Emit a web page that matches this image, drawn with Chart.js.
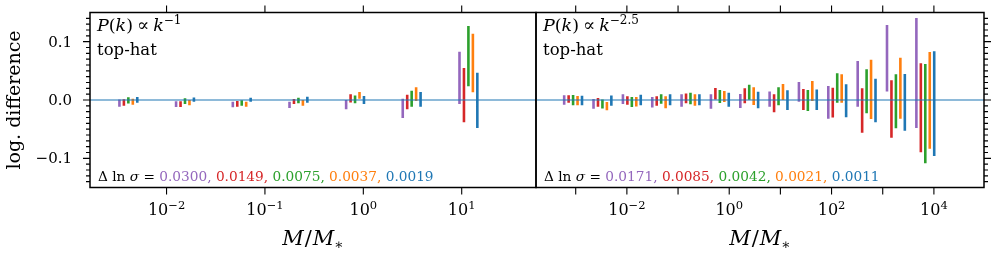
<!DOCTYPE html>
<html>
<head>
<meta charset="utf-8">
<script src="https://cdn.jsdelivr.net/npm/chart.js@4.4.1/dist/chart.umd.min.js"></script>
<style>
  body { margin: 0; background: #fff; }
  #wrap { position: relative; width: 996px; height: 256px; }
  canvas { position: absolute; left: 0; top: 0; }
</style>
</head>
<body>
<div id="wrap">
  <canvas id="left" width="996" height="256"></canvas>
  <canvas id="right" width="996" height="256"></canvas>
</div>
<script>
const SERIF = '"DejaVu Serif", serif';
const COLORS = ['#9467bd', '#d62728', '#2ca02c', '#ff7f0e', '#1f77b4'];
const ZERO_COLOR = '#1f77b4';

// left panel, P(k) ~ k^-1 : group masses (M/M*) and [low, high] per series
const leftMass = [0.00409, 0.0154, 0.0581, 0.219, 0.824, 3.10, 11.7];
const leftSigma = ['0.0300', '0.0149', '0.0075', '0.0037', '0.0019'];
const left0300 = [[-0.0114, 0.001], [-0.012, -0.0023], [-0.0126, -0.003], [-0.0137, -0.003], [-0.0157, 0.0], [-0.031, 0.0023], [-0.0069, 0.0826]];
const left0149 = [[-0.0097, 0.0015], [-0.012, -0.0023], [-0.0114, -0.0017], [-0.0069, 0.0017], [-0.0043, 0.010], [-0.016, 0.0091], [-0.038, 0.055]];
const left0075 = [[-0.006, 0.0048], [-0.007, 0.003], [-0.0097, -0.0006], [-0.0057, 0.004], [-0.0057, 0.0077], [-0.0114, 0.016], [0.0235, 0.1269]];
const left0037 = [[-0.008, 0.0023], [-0.0088, 0.0], [-0.0114, -0.003], [-0.0097, 0.0], [0.0023, 0.0137], [-0.0017, 0.0217], [0.0134, 0.1134]];
const left0019 = [[-0.0046, 0.005], [-0.0032, 0.0043], [-0.003, 0.004], [-0.0046, 0.0057], [-0.0069, 0.0069], [-0.0114, 0.0137], [-0.048, 0.0469]];
const leftXTicks = [-2, -1, 0, 1];
const leftXLabels = [-2, -1, 0, 1];

// right panel, P(k) ~ k^-2.5
const rightMass = [0.000889, 0.00333, 0.0125, 0.0468, 0.175, 0.656, 2.46, 9.20, 34.4, 129, 484, 1810, 6790];
const rightSigma = ['0.0171', '0.0085', '0.0042', '0.0021', '0.0011'];
const right0171 = [[-0.008, 0.008], [-0.015, 0.0017], [-0.0069, 0.0097], [-0.013, 0.005], [-0.0114, 0.0097], [-0.015, 0.010], [-0.0135, 0.0103], [-0.0117, 0.0146], [-0.003, 0.031], [-0.032, 0.024], [-0.0114, 0.0669], [0.0146, 0.1286], [-0.048, 0.1406]];
const right0085 = [[-0.0046, 0.008], [-0.0114, 0.0035], [-0.008, 0.0063], [-0.0097, 0.0063], [-0.0057, 0.011], [0.001, 0.0206], [-0.0057, 0.020], [-0.021, 0.010], [-0.017, 0.019], [-0.030, 0.021], [-0.056, 0.020], [-0.0646, 0.0337], [-0.0897, 0.0629]];
const right0042 = [[-0.009, 0.0086], [-0.0146, 0.001], [-0.012, 0.005], [-0.0063, 0.0097], [-0.0074, 0.0126], [-0.005, 0.017], [0.0005, 0.026], [-0.009, 0.0217], [-0.019, 0.017], [-0.0046, 0.0457], [-0.0229, 0.0526], [-0.0486, 0.044], [-0.1086, 0.0617]];
const right0021 = [[-0.009, 0.0069], [-0.0177, -0.0034], [-0.011, 0.005], [-0.0143, 0.0063], [-0.0097, 0.0097], [-0.0034, 0.0154], [-0.0086, 0.0217], [0.0, 0.0274], [-0.0017, 0.0326], [-0.0046, 0.044], [-0.0326, 0.069], [-0.032, 0.0726], [-0.0834, 0.0823]];
const right0011 = [[-0.009, 0.0074], [-0.0097, 0.0077], [-0.009, 0.009], [-0.009, 0.0097], [-0.009, 0.010], [-0.0114, 0.0126], [-0.0143, 0.0143], [-0.017, 0.0166], [-0.017, 0.018], [-0.0297, 0.027], [-0.0383, 0.0366], [-0.0526, 0.0446], [-0.096, 0.0834]];
const rightXTicks = [-3, -2, -1, 0, 1, 2, 3, 4];
const rightXLabels = [-2, 0, 2, 4];

const yTickValues = [-0.1, 0, 0.1];
const yTickLabels = ['\u22120.1', '0.0', '0.1'];

// draws a row of text pieces (font / colour / raise) one after the other
function drawRuns(ctx, runs, x, y, align) {
    let total = 0;
    runs.forEach(r => {
        ctx.font = r.font;
        r.w = ctx.measureText(r.text).width + (r.gap || 0);
        total += r.w;
    });
    let cx = align === 'center' ? x - total / 2 : x;
    runs.forEach(r => {
        ctx.font = r.font;
        ctx.fillStyle = r.color || '#000';
        ctx.fillText(r.text, cx, y + (r.dy || 0));
        cx += r.w;
    });
}

function decor(cfg) {
    return {
        id: 'decor',
        afterDraw(chart) {
            const ctx = chart.ctx;
            const a = chart.chartArea;
            const xs = chart.scales.x;
            const ys = chart.scales.y;
            ctx.save();
            ctx.strokeStyle = '#000';
            ctx.lineWidth = 1.1;
            ctx.beginPath();
            cfg.xTicks.forEach(d => {
                const px = xs.getPixelForValue(Math.pow(10, d));
                ctx.moveTo(px, a.bottom); ctx.lineTo(px, a.bottom + 7);
                ctx.moveTo(px, a.top); ctx.lineTo(px, a.top - 7);
            });
            const side = cfg.ySide === 'left' ? a.left : a.right;
            const dir = cfg.ySide === 'left' ? -1 : 1;
            for (let k = -14; k <= 14; k++) {
                const py = ys.getPixelForValue(k / 100);
                const len = k % 10 === 0 ? 7 : 4;
                ctx.moveTo(side, py); ctx.lineTo(side + dir * len, py);
            }
            ctx.stroke();

            ctx.lineWidth = 1.5;
            ctx.strokeRect(a.left, a.top, a.right - a.left, a.bottom - a.top);

            ctx.textBaseline = 'alphabetic';
            cfg.xLabels.forEach(d => {
                const px = xs.getPixelForValue(Math.pow(10, d));
                const sup = d < 0 ? '\u2212' + (-d) : String(d);
                drawRuns(ctx, [
                    { text: '10', font: `16px ${SERIF}` },
                    { text: sup, font: `11.5px ${SERIF}`, dy: -6 }
                ], px, 215, 'center');
            });

            drawRuns(ctx, [
                { text: 'M', font: `italic 21px ${SERIF}`, gap: 1 },
                { text: '/', font: `21px ${SERIF}`, gap: 1 },
                { text: 'M', font: `italic 21px ${SERIF}` },
                { text: '\u2217', font: `14px ${SERIF}`, dy: 4 }
            ], (a.left + a.right) / 2, 245, 'center');

            const tx = a.left + 7;
            drawRuns(ctx, [
                { text: 'P', font: `italic 17.5px ${SERIF}` },
                { text: '(', font: `17.5px ${SERIF}` },
                { text: 'k', font: `italic 17.5px ${SERIF}` },
                { text: ')', font: `17.5px ${SERIF}`, gap: 4 },
                { text: '\u221d', font: `18px ${SERIF}`, gap: 4 },
                { text: 'k', font: `italic 17.5px ${SERIF}` },
                { text: cfg.power, font: `12px ${SERIF}`, dy: -7.5 }
            ], tx, 31, 'left');
            drawRuns(ctx, [{ text: 'top-hat', font: `16.5px ${SERIF}` }], tx, 55, 'left');

            const f = `13.7px ${SERIF}`;
            const runs = [
                { text: '\u0394 ln ', font: f },
                { text: '\u03c3', font: `italic 13.7px ${SERIF}` },
                { text: ' = ', font: f }
            ];
            cfg.sigma.forEach((s, i) => {
                runs.push({ text: s + (i < cfg.sigma.length - 1 ? ', ' : ''), font: f, color: COLORS[i] });
            });
            drawRuns(ctx, runs, a.left + 8, 181, 'left');

            if (cfg.ySide === 'left') {
                ctx.font = `15px ${SERIF}`;
                ctx.fillStyle = '#000';
                ctx.textAlign = 'right';
                ctx.textBaseline = 'middle';
                yTickValues.forEach((v, i) => {
                    ctx.fillText(yTickLabels[i], a.left - 18, ys.getPixelForValue(v) + 1);
                });
                ctx.translate(19.6, (a.top + a.bottom) / 2);
                ctx.rotate(-Math.PI / 2);
                ctx.textAlign = 'center';
                ctx.textBaseline = 'alphabetic';
                ctx.font = `19px ${SERIF}`;
                ctx.fillText('log. difference', 0, 0);
            }
            ctx.restore();
        }
    };
}

function makePanel(id, cfg) {
    const datasets = [{
        data: [{ x: cfg.xmin, y: 0 }, { x: cfg.xmax, y: 0 }],
        borderColor: ZERO_COLOR,
        borderWidth: 1.1,
        pointRadius: 0,
        order: -1
    }];
    cfg.series.forEach((ser, i) => {
        const pts = [];
        cfg.mass.forEach((m, j) => {
            const x = m * Math.pow(cfg.dodge, i - 2);
            pts.push({ x: x, y: ser[j][0] }, { x: x, y: ser[j][1] }, { x: x, y: null });
        });
        datasets.push({
            data: pts,
            borderColor: COLORS[i],
            borderWidth: 2.6,
            borderCapStyle: 'butt',
            pointRadius: 0,
            spanGaps: false
        });
    });

    new Chart(document.getElementById(id).getContext('2d'), {
        type: 'line',
        data: { datasets: datasets },
        options: {
            responsive: false,
            animation: false,
            devicePixelRatio: 1,
            layout: { padding: cfg.padding },
            plugins: { legend: { display: false }, tooltip: { enabled: false } },
            scales: {
                x: { type: 'logarithmic', min: cfg.xmin, max: cfg.xmax, display: false },
                y: { type: 'linear', min: -0.15, max: 0.15, display: false }
            }
        },
        plugins: [decor(cfg)]
    });
}

makePanel('left', {
    mass: leftMass,
    series: [left0300, left0149, left0075, left0037, left0019],
    sigma: leftSigma,
    dodge: 1.110,
    xmin: 0.001667, xmax: 56.9,
    xTicks: leftXTicks, xLabels: leftXLabels,
    power: '\u22121',
    ySide: 'left',
    padding: { left: 90, right: 460, top: 12.5, bottom: 68.5 }
});

makePanel('right', {
    mass: rightMass,
    series: [right0171, right0085, right0042, right0021, right0011],
    sigma: rightSigma,
    dodge: 1.222,
    xmin: 0.0001675, xmax: 95300,
    xTicks: rightXTicks, xLabels: rightXLabels,
    power: '\u22122.5',
    ySide: 'right',
    padding: { left: 536, right: 12, top: 12.5, bottom: 68.5 }
});
</script>
</body>
</html>
